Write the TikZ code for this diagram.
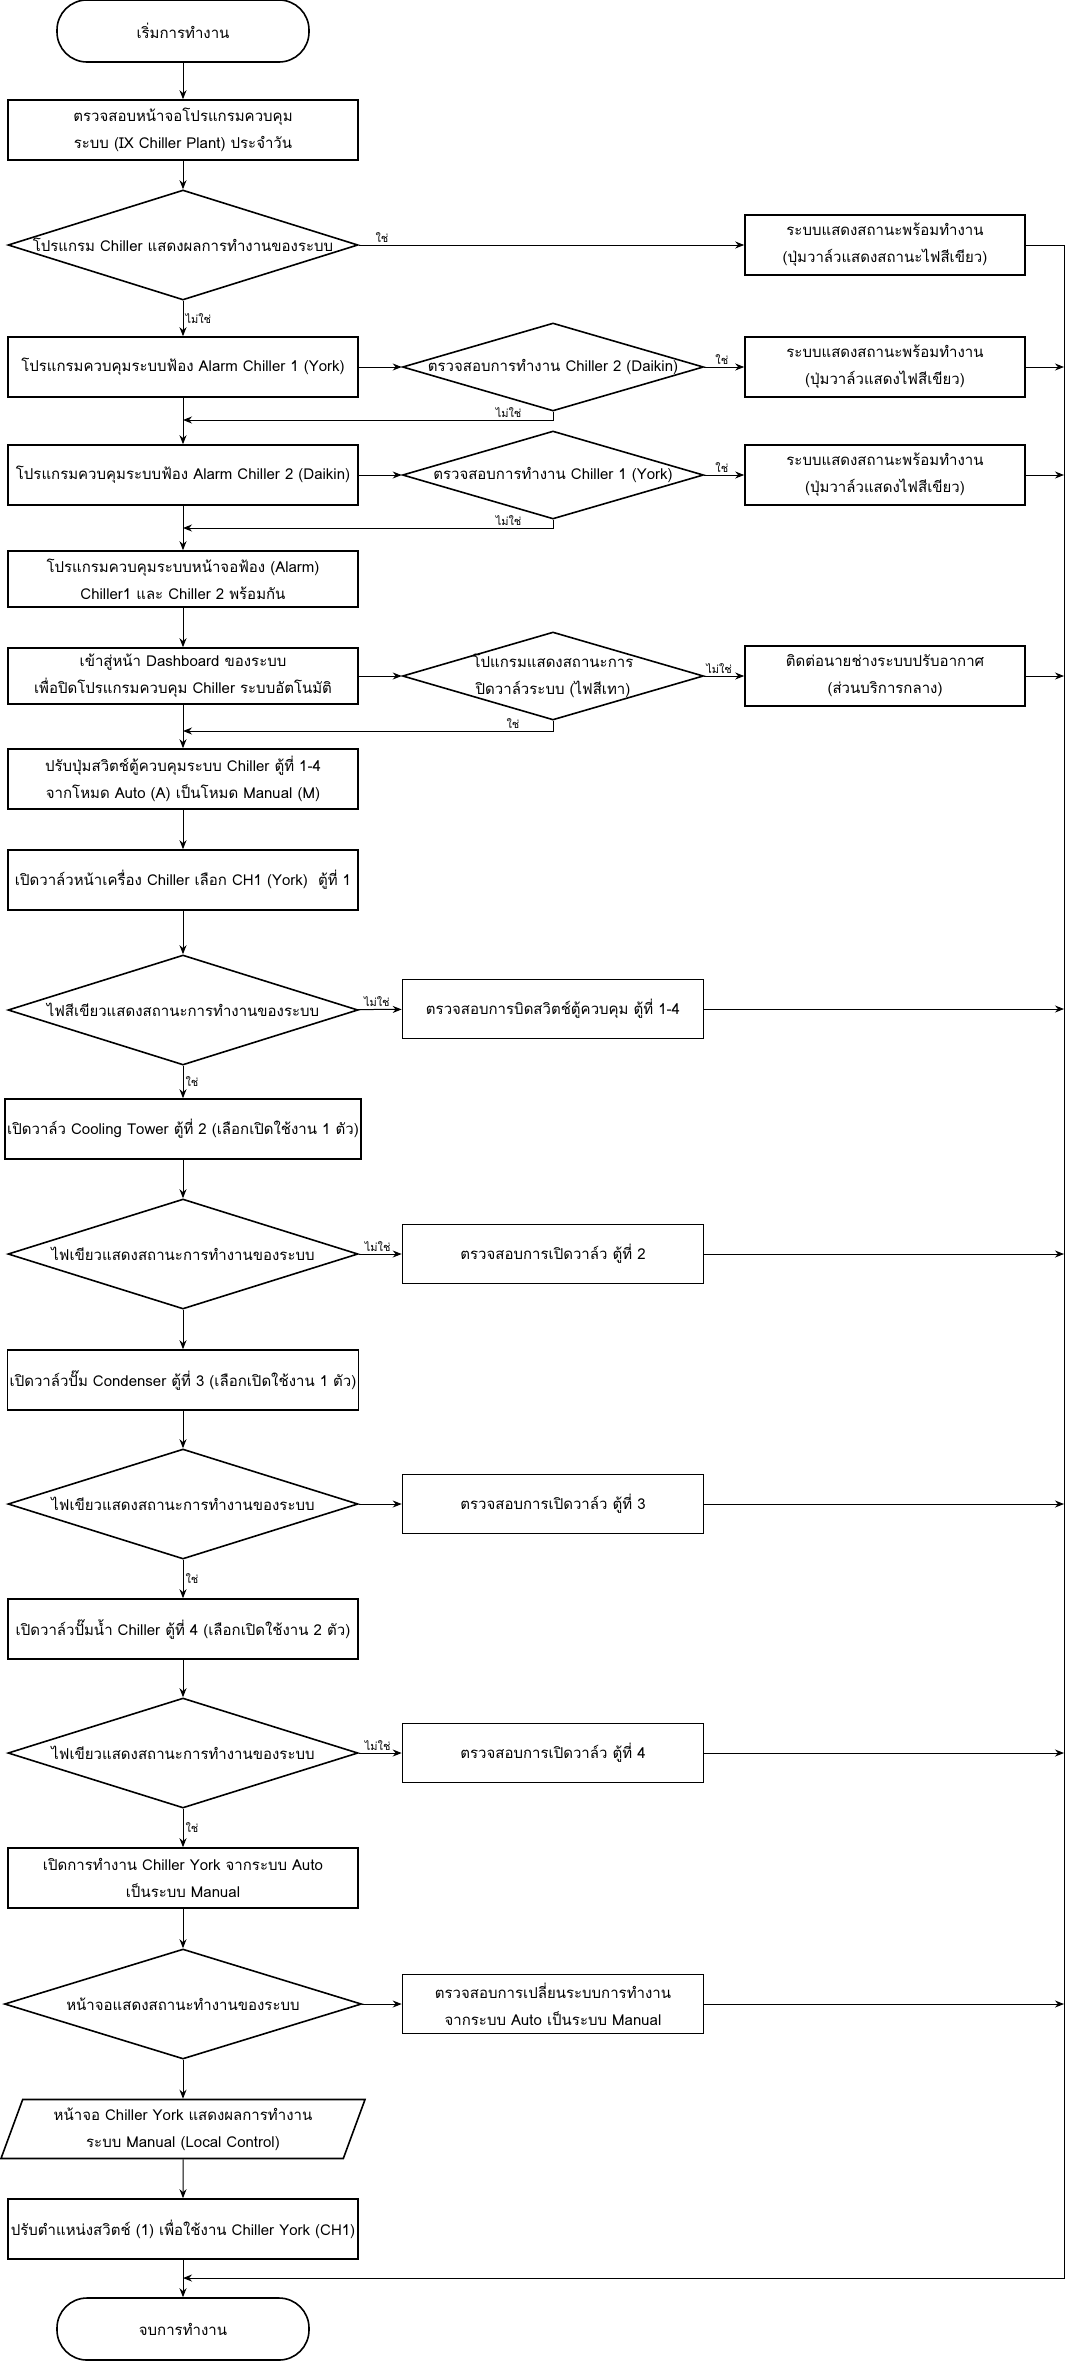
\documentclass[tikz,border=0pt]{standalone}
\usepackage{fontspec}
\setmainfont[Script=Thai]{Loma}
\usetikzlibrary{shapes.geometric,arrows.meta}

\tikzset{
  box/.style={draw, line width=1.6pt, rectangle, minimum width=350pt, minimum height=60pt, align=center, inner sep=2pt},
  rbox/.style={box, minimum width=280pt},
  wbox/.style={box, minimum width=301pt, minimum height=59pt},
  term/.style={draw, line width=1.6pt, rounded corners=30pt, minimum width=252pt, minimum height=62pt},
  dia/.style={draw, line width=1.6pt, diamond, inner sep=0pt, minimum width=350pt, minimum height=110pt},
  sdia/.style={dia, minimum width=301pt, minimum height=88pt},
  dtext/.style={align=center, inner sep=0pt},
  para/.style={draw, line width=1.6pt, trapezium, trapezium left angle=70, trapezium right angle=110,
    trapezium stretches=true, minimum width=365pt, minimum height=59pt, align=center},
  arr/.style={-{Stealth[length=9pt,width=7pt]}, line width=1pt},
  lbl/.style={font=\fontsize{11}{13}\selectfont, inner sep=2pt}
}

\begin{document}
\begin{tikzpicture}[x=1pt, y=-1pt, font=\fontsize{15}{27}\selectfont]
\useasboundingbox (0,0) rectangle (1073,2361);

\node[term] (start) at (183,31) {เริ่มการทำงาน};
\node[box] (box1) at (183,130) {ตรวจสอบหน้าจอโปรแกรมควบคุม\\ระบบ (IX Chiller Plant) ประจำวัน};
\node[dia, label={[dtext]center:โปรแกรม Chiller แสดงผลการทำงานของระบบ}] (d1) at (183,245) {};
\node[rbox] (r1) at (885,245) {ระบบแสดงสถานะพร้อมทำงาน\\(ปุ่มวาล์วแสดงสถานะไฟสีเขียว)};

\node[box] (a1) at (183,367) {โปรแกรมควบคุมระบบฟ้อง Alarm Chiller 1 (York)};
\node[sdia, label={[dtext]center:ตรวจสอบการทำงาน Chiller 2 (Daikin)}] (d2) at (553,367) {};
\node[rbox] (r2) at (885,367) {ระบบแสดงสถานะพร้อมทำงาน\\(ปุ่มวาล์วแสดงไฟสีเขียว)};
\coordinate (m1) at (183,420);

\node[box] (a2) at (183,475) {โปรแกรมควบคุมระบบฟ้อง Alarm Chiller 2 (Daikin)};
\node[sdia, label={[dtext]center:ตรวจสอบการทำงาน Chiller 1 (York)}] (d3) at (553,475) {};
\node[rbox] (r3) at (885,475) {ระบบแสดงสถานะพร้อมทำงาน\\(ปุ่มวาล์วแสดงไฟสีเขียว)};
\coordinate (m2) at (183,528);

\node[box, minimum height=56pt] (a3) at (183,579) {โปรแกรมควบคุมระบบหน้าจอฟ้อง (Alarm)\\Chiller1 และ Chiller 2 พร้อมกัน};

\node[box, minimum height=56pt] (db) at (183,676) {เข้าสู่หน้า Dashboard ของระบบ\\เพื่อปิดโปรแกรมควบคุม Chiller ระบบอัตโนมัติ};
\node[sdia, label={[dtext]center:โปแกรมแสดงสถานะการ\\ปิดวาล์วระบบ (ไฟสีเทา)}] (d4) at (553,676) {};
\node[rbox] (r4) at (885,676) {ติดต่อนายช่างระบบปรับอากาศ\\(ส่วนบริการกลาง)};
\coordinate (m3) at (183,731);

\node[box] (sw) at (183,779) {ปรับปุ่มสวิตช์ตู้ควบคุมระบบ Chiller ตู้ที่ 1-4\\จากโหมด Auto (A) เป็นโหมด Manual (M)};
\node[box] (v1) at (183,880) {เปิดวาล์วหน้าเครื่อง Chiller เลือก CH1 (York)~~ตู้ที่ 1};

\node[dia, label={[dtext]center:ไฟสีเขียวแสดงสถานะการทำงานของระบบ}] (g1) at (183,1010) {};
\node[wbox] (r5) at (553,1009) {ตรวจสอบการบิดสวิตช์ตู้ควบคุม ตู้ที่ 1-4};
\node[box] (ct) at (183,1129) {เปิดวาล์ว Cooling Tower ตู้ที่ 2 (เลือกเปิดใช้งาน 1 ตัว)};

\node[dia, label={[dtext]center:ไฟเขียวแสดงสถานะการทำงานของระบบ}] (g2) at (183,1254) {};
\node[wbox] (r6) at (553,1254) {ตรวจสอบการเปิดวาล์ว ตู้ที่ 2};
\node[box] (cd) at (183,1380) {เปิดวาล์วปั๊ม Condenser ตู้ที่ 3 (เลือกเปิดใช้งาน 1 ตัว)};

\node[dia, label={[dtext]center:ไฟเขียวแสดงสถานะการทำงานของระบบ}] (g3) at (183,1504) {};
\node[wbox] (r7) at (553,1504) {ตรวจสอบการเปิดวาล์ว ตู้ที่ 3};
\node[box] (cw) at (183,1629) {เปิดวาล์วปั๊มน้ำ Chiller ตู้ที่ 4 (เลือกเปิดใช้งาน 2 ตัว)};

\node[dia, label={[dtext]center:ไฟเขียวแสดงสถานะการทำงานของระบบ}] (g4) at (183,1753) {};
\node[wbox] (r8) at (553,1753) {ตรวจสอบการเปิดวาล์ว ตู้ที่ 4};
\node[box] (man) at (183,1878) {เปิดการทำงาน Chiller York จากระบบ Auto\\เป็นระบบ Manual};

\node[dia, minimum width=357pt, label={[dtext]center:หน้าจอแสดงสถานะทำงานของระบบ}] (g5) at (183,2004) {};
\node[wbox] (r9) at (553,2004) {ตรวจสอบการเปลี่ยนระบบการทำงาน\\จากระบบ Auto เป็นระบบ Manual};
\node[para] (sc) at (183,2129) {หน้าจอ Chiller York แสดงผลการทำงาน\\ระบบ Manual (Local Control)};
\node[box] (swp) at (183,2229) {ปรับตำแหน่งสวิตช์ (1) เพื่อใช้งาน Chiller York (CH1)};
\coordinate (mend) at (183,2278);
\coordinate (tb) at (1064,2278);
\node[term] (end) at (183,2329) {จบการทำงาน};

\draw[arr] (start) -- (box1);
\draw[arr] (box1) -- (d1);
\draw[arr] (d1) -- (r1) node[lbl, pos=0.06, above] {ใช่};
\draw[arr] (d1) -- (a1) node[lbl, pos=0.5, right] {ไม่ใช่};
\draw[arr] (a1) -- (d2);
\draw[arr] (d2) -- (r2) node[lbl, pos=0.44, above] {ใช่};
\draw[arr] (d2) |- (m1) node[lbl, pos=0.56, above] {ไม่ใช่};
\draw[arr] (a1) -- (a2);
\draw[arr] (a2) -- (d3);
\draw[arr] (d3) -- (r3) node[lbl, pos=0.44, above] {ใช่};
\draw[arr] (d3) |- (m2) node[lbl, pos=0.56, above] {ไม่ใช่};
\draw[arr] (a2) -- (a3);
\draw[arr] (a3) -- (db);
\draw[arr] (db) -- (d4);
\draw[arr] (d4) -- (r4) node[lbl, pos=0.37, above] {ไม่ใช่};
\draw[arr] (d4) |- (m3) node[lbl, pos=0.554, above] {ใช่};
\draw[arr] (db) -- (sw);
\draw[arr] (sw) -- (v1);
\draw[arr] (v1) -- (g1);
\draw[arr] (g1) -- (r5) node[lbl, pos=0.44, above] {ไม่ใช่};
\draw[arr] (g1) -- (ct) node[lbl, pos=0.5, right] {ใช่};
\draw[arr] (ct) -- (g2);
\draw[arr] (g2) -- (r6) node[lbl, pos=0.44, above] {ไม่ใช่};
\draw[arr] (g2) -- (cd);
\draw[arr] (cd) -- (g3);
\draw[arr] (g3) -- (r7);
\draw[arr] (g3) -- (cw) node[lbl, pos=0.5, right] {ใช่};
\draw[arr] (cw) -- (g4);
\draw[arr] (g4) -- (r8) node[lbl, pos=0.44, above] {ไม่ใช่};
\draw[arr] (g4) -- (man) node[lbl, pos=0.5, right] {ใช่};
\draw[arr] (man) -- (g5);
\draw[arr] (g5) -- (r9);
\draw[arr] (g5) -- (sc);
\draw[arr] (sc) -- (swp);
\draw[arr] (swp) -- (end);

\draw[arr] (r1) -| (tb) -- (mend);
\foreach \r in {r2,r3,r4,r5,r6,r7,r8,r9}
  \draw[arr] (\r) -- (\r -| tb);
\end{tikzpicture}
\end{document}
